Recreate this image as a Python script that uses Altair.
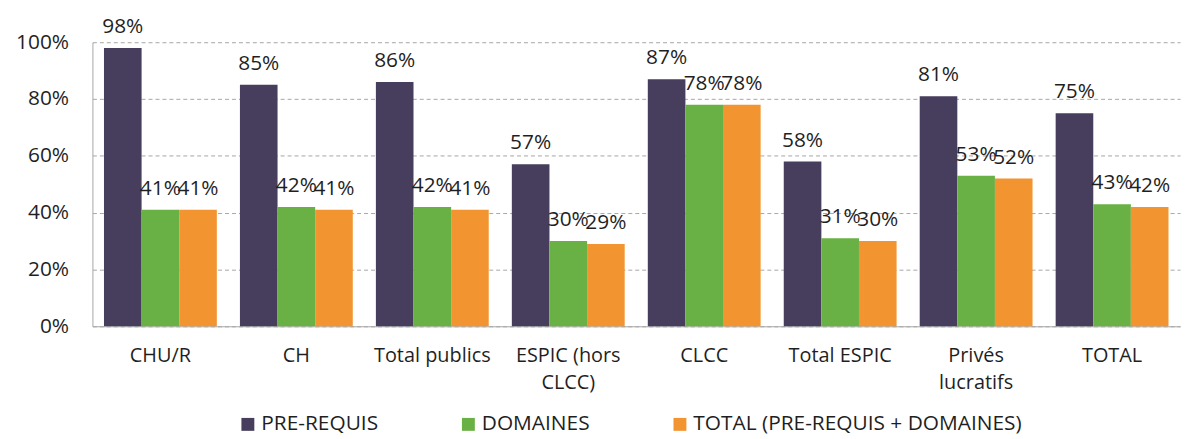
import altair as alt
import pandas as pd

categories = ["CHU/R", "CH", "Total publics", "ESPIC (hors CLCC)", "CLCC",
              "Total ESPIC", "Privés lucratifs", "TOTAL"]
series = ["PRE-REQUIS", "DOMAINES", "TOTAL (PRE-REQUIS + DOMAINES)"]
pre_requis = [98, 85, 86, 57, 87, 58, 81, 75]
domaines = [41, 42, 42, 30, 78, 31, 53, 43]
total = [41, 41, 41, 29, 78, 30, 52, 42]
colors = ["#463e5c", "#6ab145", "#f2942f"]
y_ticks = [0, 0.2, 0.4, 0.6, 0.8, 1.0]

rows = []
for s, vals in zip(series, [pre_requis, domaines, total]):
    for c, v in zip(categories, vals):
        rows.append({"category": c, "series": s, "value": v / 100})
df = pd.DataFrame(rows)

FONT = "Open Sans"
TXT = "#1f1f1f"
GRAY = "#a6a6a6"

label_expr = ("datum.label == 'ESPIC (hors CLCC)' ? ['ESPIC (hors', 'CLCC)'] : "
              "datum.label == 'Privés lucratifs' ? ['Privés', 'lucratifs'] : datum.label")

x = alt.X("category:N", sort=categories, title=None,
          scale=alt.Scale(paddingInner=0.17, paddingOuter=0.085),
          axis=alt.Axis(labelAngle=0, labelFontSize=20, labelFont=FONT, labelColor=TXT,
                        labelPadding=19, ticks=False, tickSize=0, domainColor=GRAY,
                        labelExpr=label_expr, labelLineHeight=28))
xo = alt.XOffset("series:N", sort=series, scale=alt.Scale(paddingInner=0, paddingOuter=0))
y = alt.Y("value:Q", title=None, scale=alt.Scale(domain=[0, 1], nice=False),
          axis=alt.Axis(values=y_ticks, format=".0%", grid=True, gridDash=[4, 3],
                        gridColor=GRAY, domainColor=GRAY, ticks=False, tickSize=0,
                        labelPadding=24, labelFontSize=21, labelFont=FONT, labelColor=TXT))

color = alt.Color("series:N", sort=series,
                  scale=alt.Scale(domain=series, range=colors),
                  legend=alt.Legend(title=None, orient="none", direction="horizontal",
                                    legendX=146, legendY=374, symbolType="square",
                                    symbolSize=169, symbolStrokeWidth=0, labelFontSize=21,
                                    labelFont=FONT, labelColor=TXT, columnPadding=80,
                                    labelOffset=3, labelLimit=0))

bars = alt.Chart(df).mark_bar().encode(x=x, xOffset=xo, y=y, color=color)
labels = alt.Chart(df).mark_text(font=FONT, fontSize=21, baseline="alphabetic", dy=-15,
                                 color=TXT).encode(
    x=x, xOffset=xo, y=y, text=alt.Text("value:Q", format=".0%"))

chart = (bars + labels).properties(
    width=1095, height=286,
    autosize="none",
    padding={"left": 85, "top": 33, "right": 8, "bottom": 110},
).configure_view(stroke=None)

chart.save("out.html", embed_options={"renderer": "svg", "actions": False})
